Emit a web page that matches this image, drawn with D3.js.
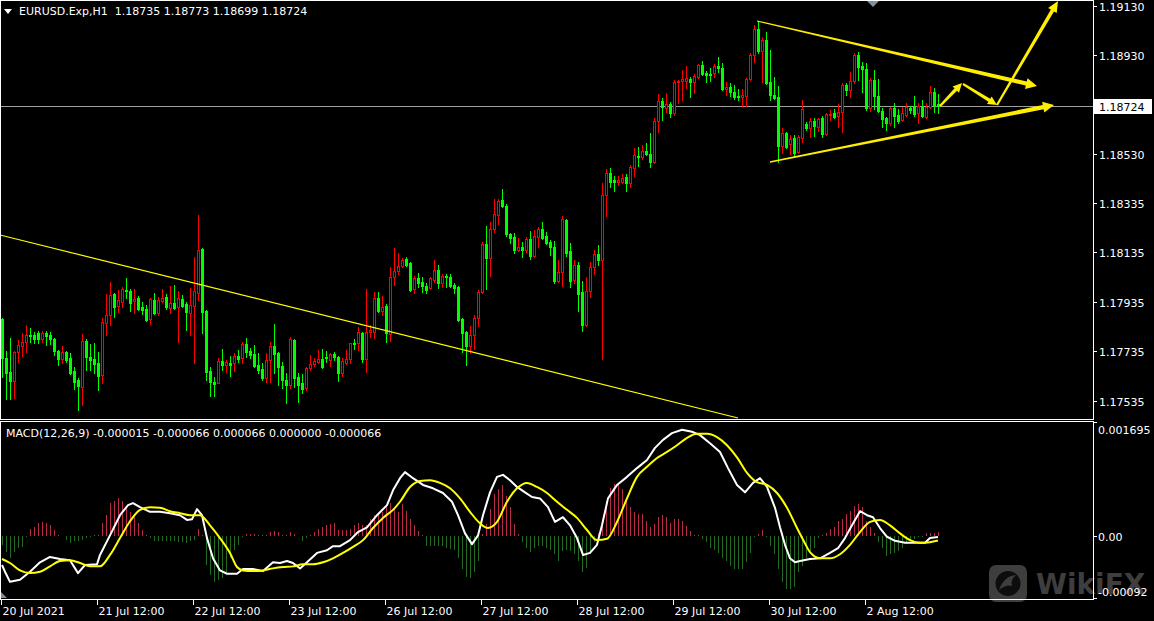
<!DOCTYPE html>
<html><head><meta charset="utf-8">
<script src="https://cdn.jsdelivr.net/npm/d3@7"></script>
<style>
html,body{margin:0;padding:0;background:#000;}
svg{display:block;}
text{font-family:"DejaVu Sans",sans-serif;font-size:11px;white-space:pre;}
</style></head><body>
<svg id="c" width="1154" height="621"></svg>
<script>
// ---------------- DATA ----------------
const symbolTitle = "EURUSD.Exp,H1  1.18735 1.18773 1.18699 1.18724";
const macdTitle = "MACD(12,26,9) -0.000015 -0.000066 0.000066 0.000000 -0.000066";

const open = [
1.17865,1.17708,1.17651,1.17615,1.17732,1.17756,1.17772,1.17801,1.17801,1.17809,
1.17784,1.17809,1.17801,1.17784,1.17736,1.17704,1.17732,1.17708,1.17655,1.17619,
1.17591,1.17776,1.17712,1.17704,1.17687,1.17639,1.17849,1.17881,1.17966,1.17918,
1.17934,1.17982,1.17978,1.17938,1.17950,1.17914,1.17906,1.17865,1.17942,1.17889,
1.17938,1.17954,1.17910,1.17930,1.17914,1.17946,1.17926,1.17889,1.17918,1.17970,
1.18148,1.17898,1.17655,1.17611,1.17607,1.17696,1.17679,1.17687,1.17687,1.17716,
1.17708,1.17764,1.17736,1.17724,1.17679,1.17663,1.17627,1.17700,1.17756,1.17728,
1.17675,1.17619,1.17599,1.17780,1.17631,1.17607,1.17586,1.17667,1.17683,1.17692,
1.17704,1.17712,1.17700,1.17724,1.17712,1.17647,1.17687,1.17704,1.17768,1.17768,
1.17809,1.17704,1.17813,1.17813,1.17950,1.17898,1.17918,1.17805,1.18035,1.18059,
1.18079,1.18108,1.18091,1.17986,1.18031,1.18015,1.17999,1.17990,1.18023,1.18063,
1.18011,1.18039,1.18035,1.18003,1.17995,1.17865,1.17813,1.17756,1.17801,1.17869,
1.17974,1.18168,1.18112,1.18229,1.18285,1.18346,1.18322,1.18209,1.18197,1.18144,
1.18156,1.18144,1.18188,1.18120,1.18197,1.18229,1.18201,1.18176,1.18156,1.18019,
1.18055,1.18265,1.18140,1.18023,1.18083,1.17974,1.17841,1.17978,1.18075,1.18128,
1.18104,1.18366,1.18455,1.18427,1.18419,1.18419,1.18439,1.18415,1.18475,1.18524,
1.18520,1.18544,1.18532,1.18500,1.18665,1.18746,1.18718,1.18734,1.18697,1.18823,
1.18827,1.18827,1.18835,1.18823,1.18843,1.18891,1.18859,1.18855,1.18859,1.18887,
1.18879,1.18794,1.18803,1.18782,1.18766,1.18762,1.18766,1.18835,1.18932,1.19037,
1.18948,1.18992,1.18823,1.18770,1.18762,1.18564,1.18617,1.18572,1.18596,1.18540,
1.18596,1.18653,1.18637,1.18665,1.18641,1.18677,1.18613,1.18689,1.18697,1.18685,
1.18702,1.18811,1.18790,1.18827,1.18932,1.18887,1.18875,1.18718,1.18831,1.18766,
1.18706,1.18677,1.18657,1.18718,1.18689,1.18669,1.18689,1.18718,1.18722,1.18697,
1.18726,1.18681,1.18722,1.18782,1.18735];

const high = [
1.17870,1.17736,1.17788,1.17735,1.17780,1.17809,1.17841,1.17829,1.17813,1.17817,
1.17817,1.17817,1.17813,1.17788,1.17740,1.17756,1.17736,1.17728,1.17671,1.17627,
1.17805,1.17784,1.17764,1.17768,1.17732,1.17869,1.17966,1.18015,1.17970,1.17982,
1.17995,1.18031,1.17986,1.17986,1.17958,1.17934,1.17922,1.17950,1.17970,1.17954,
1.17986,1.17966,1.17999,1.18003,1.17978,1.17962,1.17934,1.17990,1.18116,1.18285,
1.18152,1.17902,1.17671,1.17631,1.17708,1.17744,1.17700,1.17716,1.17728,1.17740,
1.17772,1.17788,1.17748,1.17760,1.17728,1.17687,1.17728,1.17772,1.17845,1.17732,
1.17692,1.17647,1.17793,1.17784,1.17647,1.17643,1.17670,1.17720,1.17708,1.17740,
1.17744,1.17736,1.17728,1.17732,1.17715,1.17708,1.17740,1.17770,1.17784,1.17833,
1.17813,1.17986,1.17841,1.17974,1.17974,1.17958,1.17926,1.18075,1.18152,1.18132,
1.18112,1.18116,1.18096,1.18039,1.18051,1.18035,1.18011,1.18035,1.18104,1.18083,
1.18047,1.18047,1.18047,1.18011,1.17999,1.17869,1.17815,1.17837,1.17881,1.17982,
1.18176,1.18241,1.18257,1.18350,1.18350,1.18390,1.18330,1.18213,1.18213,1.18192,
1.18176,1.18197,1.18221,1.18225,1.18237,1.18257,1.18217,1.18184,1.18180,1.18104,
1.18281,1.18269,1.18172,1.18104,1.18096,1.18019,1.18035,1.18096,1.18144,1.18164,
1.18415,1.18471,1.18475,1.18443,1.18443,1.18451,1.18451,1.18487,1.18556,1.18560,
1.18568,1.18576,1.18617,1.18677,1.18774,1.18758,1.18778,1.18742,1.18831,1.18831,
1.18871,1.18887,1.18843,1.18855,1.18895,1.18908,1.18867,1.18879,1.18895,1.18924,
1.18899,1.18823,1.18819,1.18811,1.18794,1.18794,1.18839,1.18940,1.19053,1.19069,
1.19005,1.19025,1.18952,1.18843,1.18807,1.18637,1.18621,1.18609,1.18609,1.18609,
1.18750,1.18661,1.18677,1.18677,1.18677,1.18685,1.18697,1.18710,1.18714,1.18734,
1.18819,1.18819,1.18863,1.18940,1.18944,1.18904,1.18899,1.18839,1.18871,1.18835,
1.18718,1.18681,1.18722,1.18738,1.18714,1.18722,1.18738,1.18726,1.18766,1.18738,
1.18750,1.18738,1.18807,1.18798,1.18773];

const low = [
1.17631,1.17542,1.17542,1.17546,1.17692,1.17716,1.17732,1.17772,1.17768,1.17768,
1.17772,1.17760,1.17764,1.17720,1.17679,1.17687,1.17692,1.17643,1.17582,1.17498,
1.17518,1.17659,1.17659,1.17647,1.17578,1.17607,1.17801,1.17841,1.17873,1.17894,
1.17914,1.17950,1.17898,1.17889,1.17902,1.17885,1.17857,1.17845,1.17885,1.17881,
1.17934,1.17906,1.17889,1.17906,1.17772,1.17914,1.17821,1.17801,1.17687,1.17942,
1.17809,1.17619,1.17554,1.17554,1.17607,1.17659,1.17651,1.17635,1.17655,1.17692,
1.17687,1.17712,1.17708,1.17671,1.17647,1.17619,1.17611,1.17611,1.17647,1.17599,
1.17586,1.17526,1.17586,1.17591,1.17530,1.17566,1.17580,1.17659,1.17675,1.17687,
1.17667,1.17692,1.17675,1.17700,1.17615,1.17635,1.17684,1.17687,1.17744,1.17740,
1.17692,1.17651,1.17793,1.17788,1.17894,1.17881,1.17772,1.17776,1.18003,1.18047,
1.18075,1.18079,1.17978,1.17970,1.17995,1.17974,1.17970,1.17986,1.18015,1.17990,
1.17995,1.17995,1.17995,1.17970,1.17857,1.17732,1.17679,1.17728,1.17744,1.17837,
1.17970,1.17986,1.18039,1.18217,1.18249,1.18316,1.18201,1.18172,1.18132,1.18140,
1.18116,1.18136,1.18108,1.18116,1.18156,1.18188,1.18168,1.18124,1.18011,1.18015,
1.17999,1.18120,1.17995,1.18011,1.17898,1.17817,1.17838,1.17954,1.18047,1.18083,
1.17704,1.18281,1.18399,1.18382,1.18407,1.18415,1.18382,1.18399,1.18443,1.18483,
1.18512,1.18528,1.18479,1.18495,1.18621,1.18669,1.18702,1.18681,1.18689,1.18738,
1.18750,1.18798,1.18762,1.18778,1.18839,1.18851,1.18823,1.18827,1.18843,1.18863,
1.18790,1.18770,1.18766,1.18754,1.18750,1.18726,1.18726,1.18831,1.18904,1.18940,
1.18823,1.18815,1.18750,1.18754,1.18500,1.18536,1.18556,1.18532,1.18520,1.18536,
1.18580,1.18629,1.18601,1.18605,1.18625,1.18601,1.18609,1.18669,1.18679,1.18641,
1.18621,1.18770,1.18762,1.18819,1.18831,1.18782,1.18710,1.18706,1.18714,1.18702,
1.18641,1.18629,1.18649,1.18641,1.18657,1.18665,1.18685,1.18697,1.18685,1.18657,
1.18681,1.18677,1.18718,1.18702,1.18699];

const close = [
1.17708,1.17647,1.17615,1.17732,1.17760,1.17772,1.17801,1.17797,1.17784,1.17784,
1.17809,1.17797,1.17784,1.17736,1.17704,1.17732,1.17700,1.17647,1.17611,1.17595,
1.17776,1.17712,1.17700,1.17683,1.17635,1.17853,1.17881,1.17962,1.17914,1.17942,
1.17986,1.17978,1.17930,1.17946,1.17906,1.17902,1.17861,1.17946,1.17889,1.17942,
1.17950,1.17912,1.17930,1.17910,1.17950,1.17918,1.17894,1.17922,1.17978,1.18144,
1.17894,1.17651,1.17611,1.17603,1.17696,1.17679,1.17692,1.17679,1.17716,1.17704,
1.17764,1.17732,1.17720,1.17675,1.17659,1.17627,1.17700,1.17756,1.17724,1.17671,
1.17619,1.17599,1.17784,1.17627,1.17599,1.17582,1.17667,1.17683,1.17696,1.17704,
1.17671,1.17708,1.17724,1.17712,1.17647,1.17696,1.17704,1.17768,1.17764,1.17813,
1.17704,1.17813,1.17821,1.17950,1.17898,1.17914,1.17809,1.18035,1.18059,1.18079,
1.18104,1.18083,1.17982,1.18031,1.18011,1.17999,1.17982,1.18031,1.18063,1.18011,
1.18039,1.18035,1.17999,1.17990,1.17861,1.17809,1.17756,1.17801,1.17869,1.17974,
1.18168,1.18112,1.18229,1.18289,1.18342,1.18320,1.18209,1.18192,1.18144,1.18156,
1.18144,1.18188,1.18120,1.18201,1.18229,1.18192,1.18172,1.18156,1.18019,1.18055,
1.18269,1.18132,1.18019,1.18083,1.17966,1.17841,1.17978,1.18075,1.18128,1.18104,
1.18366,1.18455,1.18419,1.18419,1.18427,1.18435,1.18415,1.18479,1.18528,1.18520,
1.18544,1.18532,1.18500,1.18665,1.18746,1.18722,1.18734,1.18697,1.18823,1.18827,
1.18835,1.18839,1.18823,1.18847,1.18891,1.18855,1.18851,1.18851,1.18887,1.18879,
1.18794,1.18803,1.18782,1.18762,1.18762,1.18770,1.18835,1.18932,1.19037,1.18948,
1.18992,1.18819,1.18770,1.18758,1.18564,1.18617,1.18560,1.18592,1.18536,1.18601,
1.18714,1.18637,1.18665,1.18645,1.18673,1.18613,1.18693,1.18693,1.18683,1.18702,
1.18811,1.18790,1.18827,1.18932,1.18883,1.18875,1.18718,1.18831,1.18766,1.18706,
1.18673,1.18657,1.18718,1.18685,1.18665,1.18697,1.18722,1.18710,1.18693,1.18726,
1.18685,1.18722,1.18782,1.18730,1.18724];

const bidPrice = 1.18724;
const priceTicks = [1.19130, 1.18930, 1.18530, 1.18335, 1.18135, 1.17935, 1.17735, 1.17535];
const priceTickLabels = ["1.19130","1.18930","1.18530","1.18335","1.18135","1.17935","1.17735","1.17535"];

const timeTickBars = [0, 24, 48, 72, 96, 120, 144, 168, 192, 216];
const timeTickLabels = ["20 Jul 2021","21 Jul 12:00","22 Jul 12:00","23 Jul 12:00","26 Jul 12:00",
  "27 Jul 12:00","28 Jul 12:00","29 Jul 12:00","30 Jul 12:00","2 Aug 12:00"];

const macdTicks = [0.001695, 0, -0.00092];
const macdTickLabels = ["0.001695", "0.00", "-0.00092"];

// MACD main line samples [bar, value]
const macdLine = [[0,-0.00043],[0.75,-0.00053],[2,-0.00068],[4.5,-0.00065],[7,-0.00053],[9.5,-0.00039],[12,-0.00031],[14.5,-0.00034],[17,-0.00036],[19,-0.00055],[20.75,-0.00043],[23.75,-0.00042],[24.5,-0.00028],[27,0.00001],[29.5,0.00031],[31.5,0.00046],[32.75,0.00049],[34.5,0.00043],[37,0.00036],[39.5,0.00036],[42,0.00034],[44.5,0.00031],[46.25,0.00024],[47.5,0.00025],[48.75,0.0004],[50,0.00031],[51.25,-0.00003],[52.75,-0.00033],[54.5,-0.00051],[56.25,-0.00056],[58.75,-0.00056],[60.25,-0.00049],[62.75,-0.00049],[65.25,-0.00052],[67.75,-0.00039],[69.5,-0.0004],[71.25,-0.00037],[72.75,-0.0004],[74.5,-0.00048],[76.25,-0.00039],[78.75,-0.00025],[81.25,-0.00021],[82.75,-0.00015],[84.5,-0.00015],[87,-0.00006],[89,0.00006],[91.25,0.00013],[93.75,0.00031],[96.25,0.00046],[97.75,0.00068],[99.5,0.00086],[100.75,0.00095],[102.75,0.00086],[105.25,0.00076],[107.75,0.00071],[110.25,0.00064],[112.5,0.00051],[114,0.00031],[115.75,0.00004],[117.5,-0.00012],[119,0.00001],[120.25,0.00031],[122,0.00065],[123.75,0.00088],[125.25,0.00091],[127,0.00083],[128.75,0.00073],[130.75,0.00065],[132.5,0.00058],[134.5,0.00056],[136.5,0.00043],[138.25,0.00021],[140.25,0.00028],[142,0.00016],[143.75,-0.00003],[145.25,-0.00028],[147,-0.00025],[148.75,-0.00013],[150,0.00016],[151.5,0.00056],[153.75,0.00076],[156.25,0.00088],[158.75,0.00101],[161.25,0.00113],[163.25,0.00131],[165.25,0.00143],[167.5,0.00153],[170,0.00158],[172.5,0.00155],[174.5,0.0015],[177,0.00138],[179.5,0.00125],[181.5,0.00101],[183.75,0.00076],[185.75,0.00065],[187.75,0.00079],[189.5,0.00086],[191.25,0.00073],[193.25,0.00042],[194.5,0.00013],[195.75,-0.00013],[197,-0.00033],[198.25,-0.00039],[199.5,-0.00037],[202,-0.00034],[204.5,-0.00033],[207,-0.00025],[209,-0.00018],[210.75,-0.00003],[212.5,0.00016],[214.5,0.00037],[216.25,0.00031],[217.75,0.00028],[219.5,0.00012],[221.25,-0.00001],[223.25,-0.00007],[225.75,-0.0001],[228.75,-0.0001],[230.75,-0.0001],[232,-0.00003],[234,-0.000015]];

// Signal line samples [bar, value]
const signalLine = [[0,-0.00034],[2,-0.0004],[4.5,-0.00051],[7,-0.00055],[9.5,-0.00053],[12,-0.00045],[14.5,-0.00037],[17,-0.00036],[19.5,-0.0004],[22,-0.00045],[24.5,-0.00045],[27,-0.00028],[29.5,-0.00003],[32,0.00022],[34.5,0.00039],[37,0.00043],[39.5,0.00042],[42,0.00037],[44.5,0.00034],[47,0.00031],[49.5,0.00031],[52,0.00016],[54.5,-0.00003],[57,-0.00025],[58.75,-0.00046],[60.25,-0.00051],[62.75,-0.00052],[65.25,-0.00051],[67.75,-0.00048],[70.25,-0.00046],[72.75,-0.00045],[75.25,-0.00042],[77.75,-0.00042],[80.25,-0.00039],[82.75,-0.00033],[85.25,-0.00025],[87.75,-0.00016],[90.25,-0.00006],[92.75,0.00012],[95.25,0.00027],[97.75,0.00039],[99.5,0.00051],[102,0.00073],[104.5,0.00082],[107,0.00083],[109.5,0.00079],[112,0.00071],[114.5,0.00056],[117,0.00036],[119.5,0.00019],[121.5,0.00012],[123.75,0.00021],[126.25,0.00051],[128.75,0.00071],[131.25,0.00079],[133.75,0.00073],[136.25,0.00064],[138.75,0.00051],[141.25,0.00039],[143.75,0.00027],[146.25,0.00009],[148.75,-0.00006],[151.25,-0.00004],[153.75,0.00021],[156.25,0.00056],[158.75,0.00088],[161.25,0.00103],[163.75,0.00116],[166.25,0.00125],[168.75,0.00135],[171.25,0.00146],[173.75,0.00152],[176.25,0.00152],[178.75,0.00147],[181.25,0.00135],[183.75,0.00117],[186.25,0.00094],[188.75,0.0008],[191.25,0.00076],[193.75,0.00064],[196.25,0.00042],[198.75,0.00012],[200.5,-0.00008],[202,-0.00024],[204.5,-0.00033],[207,-0.00033],[209.5,-0.00027],[212,-0.00013],[214.5,0.00006],[217,0.00021],[219.5,0.00024],[222,0.00016],[224.5,0.00004],[227,-0.00006],[229.5,-0.0001],[232,-0.00009],[234,-0.000066]];

// Histogram, one per bar
const histogram = [
-0.00013,-0.00023,-0.00033,-0.00023,-0.00018,-0.00016,-0.00002,0.00011,0.00014,0.00019,
0.00021,0.00019,0.00016,0.00009,0.00001,0,-0.00006,-0.00011,-0.00008,-0.00008,
-0.00006,-0.00003,-0.00002,0.00001,0.00001,0.00019,0.00031,0.00049,0.00052,0.00056,
0.00052,0.00044,0.00036,0.00029,0.00019,0.00009,0.00001,-0.00003,-0.00008,-0.00008,
-0.00007,-0.00007,-0.00008,-0.00008,-0.00009,-0.00009,-0.00011,-0.00008,-0.00006,0.00011,
0.00001,-0.00043,-0.00058,-0.00068,-0.00065,-0.00063,-0.00053,-0.00033,-0.00021,-0.00013,
-0.00002,0.00003,0.00003,0.00003,0.00001,0.00001,0.00001,0.00006,0.00007,0.00006,
0.00001,0.00001,0.00006,0.00003,0,-0.00007,-0.00003,0.00001,0.00006,0.00011,
0.00014,0.00016,0.00018,0.00019,0.00009,0.00009,0.00009,0.00011,0.00016,0.0002,
0.00016,0.00016,0.00026,0.00031,0.00034,0.00036,0.00046,0.00049,0.00041,0.00036,
0.00048,0.00038,0.00025,0.00016,0.00008,0.00001,-0.00014,-0.00015,-0.00014,-0.00014,
-0.00014,-0.00017,-0.00019,-0.0002,-0.00033,-0.00049,-0.00061,-0.00062,-0.00054,-0.00037,
0.00003,0.00018,0.0004,0.00062,0.0007,0.00076,0.0006,0.00043,0.00018,0.00003,
-0.00009,-0.00017,-0.00023,-0.00017,-0.00014,-0.00014,-0.00017,-0.0002,-0.00027,-0.00037,
-0.00022,-0.0002,-0.00022,-0.00027,-0.00037,-0.00054,-0.00047,-0.00027,-0.00009,0.00005,
0.00023,0.00052,0.00072,0.00077,0.00077,0.0007,0.00055,0.00043,0.00036,0.00033,
0.00033,0.00023,0.00013,0.00018,0.00028,0.00031,0.00028,0.0002,0.00025,0.00025,
0.00023,0.00015,0.00008,0.00002,0.00001,-0.00004,-0.00009,-0.00017,-0.0002,-0.00025,
-0.00032,-0.00037,-0.00044,-0.00049,-0.00049,-0.00049,-0.00039,-0.00025,-0.00002,0.00003,
0.00009,-0.00001,-0.00014,-0.00027,-0.00049,-0.00068,-0.00078,-0.00078,-0.00076,-0.00054,
-0.00044,-0.00033,-0.00022,-0.00017,-0.00003,0.00001,0.00005,0.00011,0.00014,0.00023,
0.00025,0.00033,0.00038,0.00045,0.00048,0.00043,0.00023,0.00013,0.00005,-0.00009,
-0.00017,-0.00029,-0.00027,-0.00025,-0.00022,-0.00017,-0.00012,-0.00007,-0.00004,-0.00002,
-0.00001,0.00004,0.00005,0.00005,0.000066];

// Drawn objects (bar position, price)
const longTrend = [[-0.5, 1.182047], [184, 1.174653]];
const arrowUpperTri = [[188.75, 1.190694], [258.75, 1.188067]];
const arrowLowerTri = [[192, 1.184997], [263, 1.187300]];
const arrowStep1 = [[234.5, 1.187260], [240, 1.188188]];
const arrowStep2 = [[240.25, 1.188148], [248.75, 1.187300]];
const arrowStep3 = [[248.75, 1.187300], [264, 1.191502]];

// ---------------- CHART ----------------
const W = 1154, H = 621;
const plotR = 1093;
const mainTop = 0, mainBot = 419, macdTop = 421, macdBot = 599;
const svg = d3.select("#c");
svg.append("rect").attr("width", W).attr("height", H).attr("fill", "#000");

const N = open.length;
const xs = d3.scaleLinear().domain([0, N - 1]).range([2, 938]);
const yP = d3.scaleLinear().domain([1.174613, 1.191542]).range([mainBot, mainTop]);
const yM = d3.scaleLinear().domain([-0.00092, 0.001695]).range([598, 422]);

const defs = svg.append("defs");
defs.append("clipPath").attr("id", "clipMain").append("rect")
  .attr("x", 0).attr("y", mainTop).attr("width", plotR).attr("height", mainBot - mainTop);
defs.append("clipPath").attr("id", "clipMacd").append("rect")
  .attr("x", 0).attr("y", macdTop).attr("width", plotR).attr("height", macdBot - macdTop);

const gMain = svg.append("g").attr("clip-path", "url(#clipMain)");

// bid line
const yBid = Math.round(yP(bidPrice)) + 0.5;
gMain.append("line").attr("x1", 0).attr("x2", plotR).attr("y1", yBid).attr("y2", yBid)
  .attr("stroke", "#a0a0a0").attr("stroke-width", 1);

// candles
const UP = "#ff0000", DN = "#00ff00";
const gC = gMain.append("g").attr("shape-rendering", "crispEdges");
d3.range(N).forEach(i => {
  const cx = Math.round(xs(i));
  const up = close[i] >= open[i];
  const col = up ? UP : DN;
  gC.append("line").attr("x1", cx + 0.5).attr("x2", cx + 0.5)
    .attr("y1", Math.round(yP(high[i]))).attr("y2", Math.round(yP(low[i])) + 1)
    .attr("stroke", col);
  const yT = Math.round(yP(Math.max(open[i], close[i])));
  const yB = Math.round(yP(Math.min(open[i], close[i])));
  if (up) {
    gC.append("rect").attr("x", cx - 0.5).attr("y", yT + 0.5)
      .attr("width", 2).attr("height", Math.max(0, yB - yT))
      .attr("fill", "#000").attr("stroke", col).attr("stroke-width", 1);
  } else {
    gC.append("rect").attr("x", cx - 1).attr("y", yT)
      .attr("width", 3).attr("height", Math.max(1, yB - yT + 1))
      .attr("fill", col);
  }
});

// long thin trendline
gMain.append("line")
  .attr("x1", xs(longTrend[0][0])).attr("y1", yP(longTrend[0][1]))
  .attr("x2", xs(longTrend[1][0])).attr("y2", yP(longTrend[1][1]))
  .attr("stroke", "#ffff00").attr("stroke-width", 1.2);

// tapered arrows
function arrowPoly(pts, w0, w1, hl, hw) {
  const a = [xs(pts[0][0]), yP(pts[0][1])], b = [xs(pts[1][0]), yP(pts[1][1])];
  const dx = b[0] - a[0], dy = b[1] - a[1], L = Math.hypot(dx, dy);
  const ux = dx / L, uy = dy / L, nx = -uy, ny = ux;
  const s = [b[0] - ux * hl, b[1] - uy * hl];
  return [[a[0] + nx * w0 / 2, a[1] + ny * w0 / 2], [s[0] + nx * w1 / 2, s[1] + ny * w1 / 2],
    [s[0] + nx * hw, s[1] + ny * hw], b, [s[0] - nx * hw, s[1] - ny * hw],
    [s[0] - nx * w1 / 2, s[1] - ny * w1 / 2], [a[0] - nx * w0 / 2, a[1] - ny * w0 / 2]];
}
const arrowSpecs = [
  [arrowUpperTri, 1.2, 4.2, 11, 5.5],
  [arrowLowerTri, 1.6, 4.2, 11, 5.5],
  [arrowStep1, 2.2, 3.4, 9, 4.5],
  [arrowStep2, 2.2, 3.4, 9, 4.5],
  [arrowStep3, 2.2, 3.6, 11, 5]
];
arrowSpecs.forEach(s => {
  gMain.append("polygon").attr("points", arrowPoly(s[0], s[1], s[2], s[3], s[4]).map(p => p.join(",")).join(" "))
    .attr("fill", "#ffee00");
});

// ---------- MACD ----------
const gM = svg.append("g").attr("clip-path", "url(#clipMacd)");
const y0 = Math.round(yM(0));
const gH = gM.append("g").attr("shape-rendering", "crispEdges");
histogram.forEach((v, i) => {
  const cx = Math.round(xs(i)) + 0.5;
  const yv = Math.round(yM(v));
  if (yv === y0) return;
  gH.append("line").attr("x1", cx).attr("x2", cx).attr("y1", y0).attr("y2", yv)
    .attr("stroke", v >= 0 ? "#b82a46" : "#236b23").attr("stroke-width", 1);
});
const lineGen = d3.line().x(d => xs(d[0])).y(d => yM(d[1]));
gM.append("path").attr("d", lineGen(macdLine)).attr("fill", "none")
  .attr("stroke", "#ffffff").attr("stroke-width", 2).attr("stroke-linejoin", "round");
gM.append("path").attr("d", lineGen.curve(d3.curveMonotoneX)(signalLine)).attr("fill", "none")
  .attr("stroke", "#ffff00").attr("stroke-width", 2).attr("stroke-linejoin", "round");

// ---------- watermark ----------
const wm = svg.append("g").attr("opacity", 0.45);
wm.append("rect").attr("x", 989).attr("y", 565).attr("width", 38).attr("height", 37).attr("rx", 7)
  .attr("fill", "#8a8a8a");
wm.append("circle").attr("cx", 1008).attr("cy", 583.5).attr("r", 12.5).attr("fill", "#1e1e1e");
wm.append("path").attr("d", "M999,590 Q1004,576 1016,575 Q1010,580 1012,586 Q1006,584 999,590Z").attr("fill", "#8a8a8a");
wm.append("text").attr("x", 1036).attr("y", 594).text("WikiFX")
  .style("font-size", "28px").style("font-weight", "bold").attr("fill", "#8a8a8a");

// ---------- frames & axes ----------
const gF = svg.append("g").attr("shape-rendering", "crispEdges").attr("stroke", "#ffffff").attr("fill", "none");
gF.append("rect").attr("x", 0.5).attr("y", 0.5).attr("width", plotR - 0.5).attr("height", mainBot - 0.5);
gF.append("rect").attr("x", 0.5).attr("y", macdTop + 0.5).attr("width", plotR - 0.5).attr("height", macdBot - macdTop - 0.5);

// price axis
const gPA = svg.append("g");
priceTicks.forEach((v, k) => {
  const y = Math.round(yP(v)) + 0.5;
  gPA.append("line").attr("x1", plotR).attr("x2", plotR + 4).attr("y1", y).attr("y2", y)
    .attr("stroke", "#fff").attr("shape-rendering", "crispEdges");
  gPA.append("text").attr("x", plotR + 6).attr("y", y + 4).attr("fill", "#fff").text(priceTickLabels[k]);
});
// bid label
gPA.append("rect").attr("x", plotR + 1).attr("y", yBid - 7.5).attr("width", W - plotR - 3).attr("height", 15)
  .attr("fill", "#ffffff");
gPA.append("text").attr("x", plotR + 6).attr("y", yBid + 4).attr("fill", "#000").text(bidPrice.toFixed(5));

// MACD axis
macdTicks.forEach((v, k) => {
  const yr = Math.round(yM(v)) + 0.5;
  gPA.append("line").attr("x1", plotR).attr("x2", plotR + 4).attr("y1", yr).attr("y2", yr)
    .attr("stroke", "#fff").attr("shape-rendering", "crispEdges");
  const yt = Math.min(Math.max(yr, macdTop + 9), macdBot - 7);
  gPA.append("text").attr("x", plotR + 5).attr("y", yt + 4).attr("fill", "#fff").text(macdTickLabels[k]);
});

// time axis
timeTickBars.forEach((b, k) => {
  const x = Math.round(xs(b)) - 0.5;
  svg.append("line").attr("x1", x).attr("x2", x).attr("y1", macdBot).attr("y2", macdBot + 6)
    .attr("stroke", "#fff").attr("shape-rendering", "crispEdges");
  svg.append("text").attr("x", x + 1).attr("y", 615).attr("fill", "#fff").text(timeTickLabels[k]);
});

// titles
svg.append("path").attr("d", "M4,9 L12,9 L8,14 Z").attr("fill", "#fff");
svg.append("text").attr("x", 19).attr("y", 15).attr("fill", "#fff").text(symbolTitle);
svg.append("text").attr("x", 6).attr("y", 437).attr("fill", "#fff").text(macdTitle);

// chart shift marker & corner marker
svg.append("path").attr("d", "M867,1 L879,1 L873,7 Z").attr("fill", "#8090a0");
svg.append("path").attr("d", "M1,592 L1,598 L7,598 Z").attr("fill", "#8090a0");
</script>
</body></html>
